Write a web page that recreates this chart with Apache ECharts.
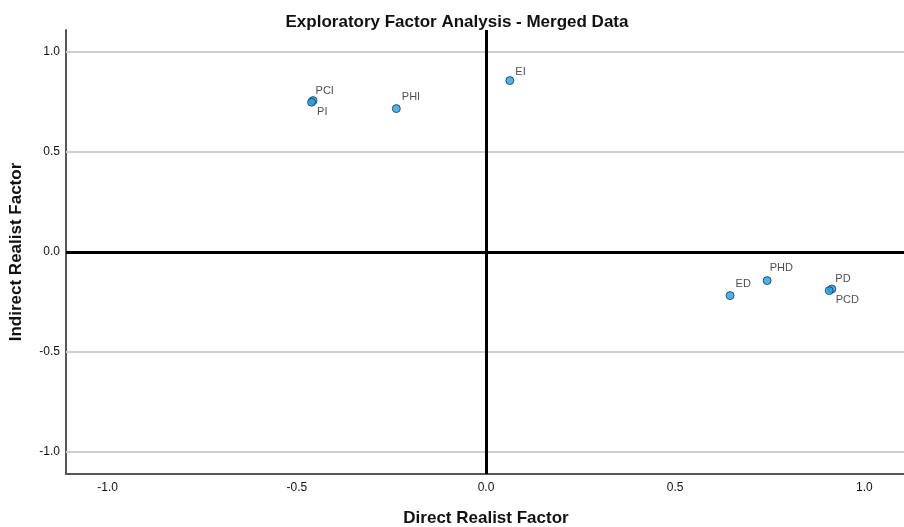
<!DOCTYPE html>
<html>
<head>
<meta charset="utf-8">
<script src="https://cdn.jsdelivr.net/npm/echarts@6/dist/echarts.min.js"></script>
<style>
  html, body { margin: 0; padding: 0; background: #fff; }
  #main { width: 904px; height: 527px; }
</style>
</head>
<body>
<div id="main"></div>
<script>
// 数据
var names = ['PCI', 'PI', 'PHI', 'EI', 'ED', 'PHD', 'PD', 'PCD'];
var directVals = [-0.457, -0.461, -0.237, 0.063, 0.645, 0.743, 0.914, 0.907];
var indirectVals = [0.757, 0.749, 0.717, 0.857, -0.218, -0.143, -0.185, -0.193];
var tickVals = [-1.0, -0.5, 0.0, 0.5, 1.0];

// label placement (pixels, relative to the point)
var labelOffsets = {
  PCI: [-2, -10], PI: [1, 10], PHI: [1, -12], EI: [1, -9],
  ED: [1, -12], PHD: [-2, -13], PD: [-1, -10], PCD: [2, 9]
};

var points = [];
for (var i = 0; i < names.length; i++) {
  points.push({
    name: names[i],
    value: [directVals[i], indirectVals[i]],
    label: { offset: labelOffsets[names[i]] }
  });
}

var gridLines = [];
for (var i = 0; i < tickVals.length; i++) {
  if (tickVals[i] !== 0) gridLines.push({ yAxis: tickVals[i] });
}

var fmt = function (v) { return v.toFixed(1); };

var myChart = echarts.init(document.getElementById('main'));
myChart.setOption({
  animation: false,
  textStyle: { fontFamily: 'Liberation Sans, Arial, sans-serif' },
  title: {
    text: 'Exploratory Factor Analysis - Merged Data',
    left: 452,
    textAlign: 'center',
    top: 9,
    textStyle: { fontSize: 17, fontWeight: 'bold', color: '#111' }
  },
  grid: { left: 66, right: -2, top: 30, bottom: 53, outerBoundsMode: 'none' },
  xAxis: {
    type: 'value',
    min: -1.11,
    max: 1.11,
    name: 'Direct Realist Factor',
    nameLocation: 'middle',
    nameGap: 36,
    nameTextStyle: { fontSize: 17, fontWeight: 'bold', color: '#111' },
    axisLine: { onZero: false, lineStyle: { color: '#555', width: 2 } },
    axisTick: { show: false },
    splitLine: { show: false },
    axisLabel: {
      customValues: tickVals,
      formatter: fmt,
      fontSize: 12,
      color: '#111',
      margin: 8
    }
  },
  yAxis: {
    type: 'value',
    min: -1.11,
    max: 1.11,
    name: 'Indirect Realist Factor',
    nameLocation: 'middle',
    nameGap: 41,
    nameTextStyle: { fontSize: 17, fontWeight: 'bold', color: '#111' },
    axisLine: { show: true, onZero: false, lineStyle: { color: '#555', width: 2 } },
    axisTick: { show: false },
    splitLine: { show: false },
    axisLabel: {
      customValues: tickVals,
      formatter: fmt,
      fontSize: 12,
      color: '#111',
      margin: 6
    }
  },
  series: [
    {
      type: 'scatter',
      data: points,
      symbolSize: 8,
      z: 5,
      itemStyle: { color: '#1f9fe6', borderColor: '#1c3550', borderWidth: 1 },
      label: {
        show: true,
        formatter: '{b}',
        position: 'right',
        distance: 0,
        fontSize: 11,
        color: '#222'
      },
      markLine: {
        silent: true,
        symbol: 'none',
        label: { show: false },
        lineStyle: { color: '#cfcfcf', width: 2, type: 'solid' },
        data: gridLines.concat([
          { yAxis: 0, lineStyle: { color: '#000', width: 3 } },
          { xAxis: 0, lineStyle: { color: '#000', width: 3 } }
        ])
      }
    }
  ]
});
</script>
</body>
</html>
